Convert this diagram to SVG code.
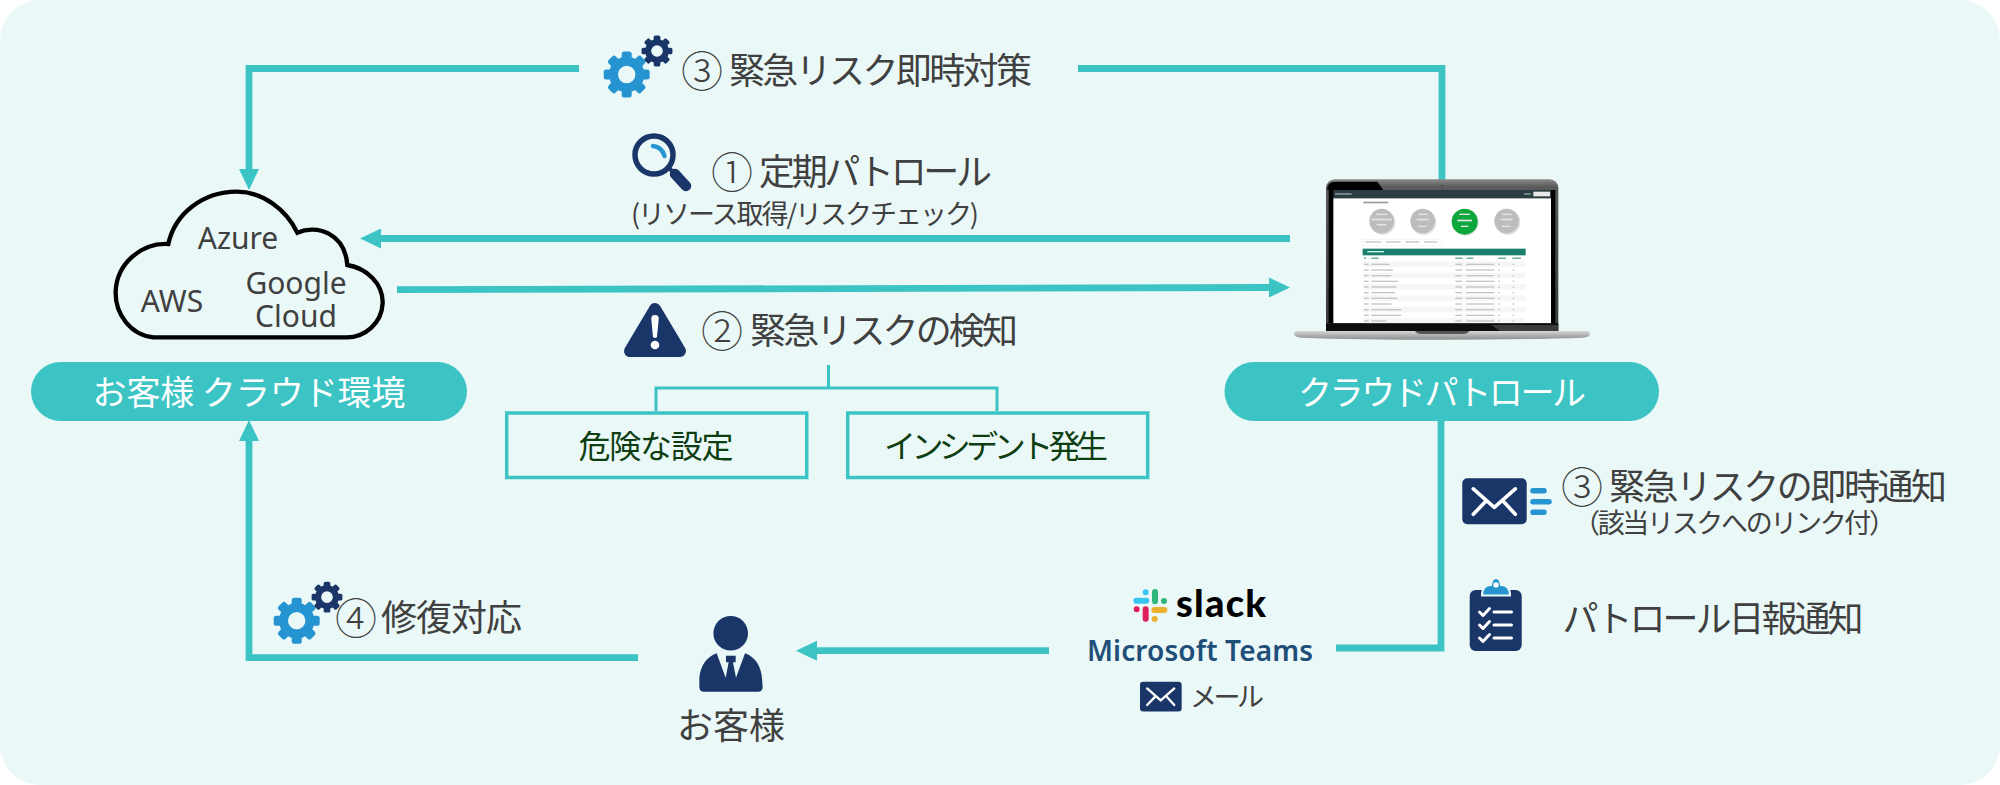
<svg xmlns="http://www.w3.org/2000/svg" width="2000" height="785" viewBox="0 0 2000 785">
<style>
text{font-family:"Noto Sans CJK JP","Noto Sans",sans-serif;fill:#404040;font-weight:400}
.l{font-size:36px}.s{font-size:27px}.n{font-size:42px;font-weight:300}
.lat{font-family:"Noto Sans","Liberation Sans",sans-serif;font-size:30px;text-anchor:middle;font-weight:400}
.pill{fill:#3CC4C4}.pt{fill:#fff;font-size:34px;text-anchor:middle;font-weight:400}
.box{fill:none;stroke:#3CC4C4;stroke-width:3.5}
.bt{fill:#0F3D12;font-size:32px;text-anchor:middle;font-weight:400}
.c{fill:none;stroke:#3CC4C4;stroke-width:6.8}
.t{fill:none;stroke:#3CC4C4;stroke-width:3}
.navy{fill:#1A3668}.blue{fill:#2594D0}
.wl{fill:none;stroke:#fff;stroke-linecap:round;stroke-linejoin:round}
.r{fill:#BDBDBD}.g{fill:#C4C4C4}.tl{fill:#2A8A78}
</style>
<defs>
<marker id="ah" markerUnits="userSpaceOnUse" markerWidth="21" markerHeight="20" refX="0" refY="10" orient="auto"><path d="M0 0L21 10L0 20Z" fill="#3CC4C4"/></marker>
<g id="gear"><circle r="13.2" fill="none" stroke="currentColor" stroke-width="9"/>
<g fill="currentColor"><rect x="-5" y="-23" width="10" height="8" rx="2.5"/><rect x="-5" y="-23" width="10" height="8" rx="2.5" transform="rotate(45)"/><rect x="-5" y="-23" width="10" height="8" rx="2.5" transform="rotate(90)"/><rect x="-5" y="-23" width="10" height="8" rx="2.5" transform="rotate(135)"/><rect x="-5" y="-23" width="10" height="8" rx="2.5" transform="rotate(180)"/><rect x="-5" y="-23" width="10" height="8" rx="2.5" transform="rotate(225)"/><rect x="-5" y="-23" width="10" height="8" rx="2.5" transform="rotate(270)"/><rect x="-5" y="-23" width="10" height="8" rx="2.5" transform="rotate(315)"/></g></g>
<g id="gears"><use href="#gear" color="#2594D0"/><use href="#gear" color="#1A3668" transform="translate(30.3 -23.5) scale(.67)"/></g>
<g id="mail"><rect width="64.4" height="46" rx="5" class="navy"/><path class="wl" stroke-width="3.6" d="M11 10.5L32 29L53 10.5M11 36L23.5 23M53 36L41 23"/></g>
<filter id="soft" x="-2%" y="-2%" width="104%" height="104%"><feGaussianBlur stdDeviation="0.6"/></filter>
<linearGradient id="lid" x1="0" y1="0" x2="0" y2="1"><stop offset="0" stop-color="#8A8A8A"/><stop offset=".05" stop-color="#5A5A5A"/><stop offset="1" stop-color="#3A3A3A"/></linearGradient>
<linearGradient id="base" x1="0" y1="0" x2="0" y2="1"><stop offset="0" stop-color="#D6D6D6"/><stop offset=".5" stop-color="#B0B0B0"/><stop offset="1" stop-color="#8F8F8F"/></linearGradient>
</defs>
<rect id="background" width="2000" height="785" rx="40" fill="#EAF9F8"/>

<g id="connectors">
<path class="c" d="M579 68.500H249V169" marker-end="url(#ah)"/>
<path class="c" d="M1078 68.500H1442V180"/>
<path class="c" d="M1290 238.500H381" marker-end="url(#ah)"/>
<path class="c" d="M397 289.700L1269 287.500" marker-end="url(#ah)"/>
<path class="c" d="M1441 421V648H1336"/>
<path class="c" d="M1049 650.700H817" marker-end="url(#ah)"/>
<path class="c" d="M638 657.700H249V441" marker-end="url(#ah)"/>
<path class="t" d="M828.500 365V388M656 411V388H997V411"/>
</g>

<g id="cloud-node">
<path transform="translate(100 180) scale(.3333)" fill="#EAF9F8" stroke="#000" stroke-width="13" stroke-linejoin="miter" d="M160 472C90 465 45 400 47 335C50 250 125 188 205 192C225 100 310 35 410 35C490 35 560 90 592 158C650 132 735 160 742 255C800 265 850 310 848 370C845 430 795 472 740 472Z"/>
<text class="lat" x="238" y="249">Azure</text>
<text class="lat" x="172" y="312">AWS</text>
<text class="lat"><tspan x="296" y="294">Google</tspan><tspan x="296" y="327">Cloud</tspan></text>
</g>
<g id="customer-cloud-label"><rect class="pill" x="31" y="362" width="436" height="59" rx="29.5"/><text class="pt" x="249" y="405" textLength="313">お客様 クラウド環境</text></g>
<g id="patrol-label"><rect class="pill" x="1224.5" y="362" width="434.5" height="59" rx="29.5"/><text class="pt" x="1442" y="405" textLength="288">クラウドパトロール</text></g>

<g id="laptop" transform="translate(1290 170) scale(.33333)">
<g filter="url(#soft)">
<rect x="108" y="28" width="697" height="460" rx="26" fill="url(#lid)"/>
<path d="M112 58Q112 35 135 35H262L280 60H112Z" fill="#000"/>
<rect x="116" y="60" width="680" height="400" fill="#000"/>
<rect x="130" y="60" width="653" height="25" fill="#2A3D40"/>
<rect x="730" y="65" width="50" height="14" fill="#E8E8E8"/>
<rect x="135" y="70" width="50" height="4" fill="#9AA"/><rect x="702" y="70" width="20" height="4" fill="#9AA"/>
<rect x="130" y="85" width="653" height="375" fill="#fff"/>
<rect x="220" y="95" width="75" height="5" fill="#999"/>
<circle cx="278" cy="157" r="38" fill="#E2E2E2"/><circle cx="275" cy="153" r="37" class="r"/>
<circle cx="401" cy="157" r="38" fill="#E2E2E2"/><circle cx="398" cy="153" r="37" class="r"/>
<circle cx="526" cy="157" r="40" fill="#DDD"/><circle cx="524" cy="155" r="39" fill="#10A83A"/>
<circle cx="653" cy="157" r="38" fill="#E2E2E2"/><circle cx="650" cy="153" r="37" class="r"/>
<g fill="#E4E4E4"><rect x="258" y="131" width="34" height="4"/><rect x="245" y="146" width="60" height="5"/><rect x="260" y="162" width="30" height="4"/>
<rect x="385" y="131" width="28" height="4"/><rect x="380" y="146" width="36" height="5"/><rect x="385" y="167" width="24" height="4"/>
<rect x="508" y="131" width="32" height="4"/><rect x="502" y="149" width="44" height="5"/><rect x="513" y="167" width="22" height="4"/>
<rect x="636" y="131" width="30" height="4"/><rect x="632" y="146" width="36" height="5"/><rect x="636" y="167" width="26" height="4"/></g>
<rect x="218" y="208" width="238" height="18" fill="#fff" stroke="#E5E5E5"/>
<g class="g"><rect x="226" y="214" width="48" height="4"/><rect x="288" y="214" width="44" height="4"/><rect x="346" y="214" width="42" height="4"/><rect x="402" y="214" width="40" height="4"/></g>
<rect x="218" y="236" width="489" height="20" fill="#1F7F6C"/>
<rect x="232" y="243" width="50" height="4" fill="#CFE"/>
<g class="tl"><rect x="222" y="263" width="6" height="3"/><rect x="244" y="263" width="22" height="3"/><rect x="496" y="263" width="22" height="3"/><rect x="530" y="263" width="20" height="3"/><rect x="624" y="263" width="24" height="3"/><rect x="667" y="263" width="26" height="3"/></g>
<g fill="#F6F6F6"><rect x="218" y="274" width="489" height="17"/><rect x="218" y="308" width="489" height="17"/><rect x="218" y="342" width="489" height="17"/><rect x="218" y="376" width="489" height="17"/><rect x="218" y="410" width="489" height="17"/><rect x="218" y="444" width="489" height="16"/></g>
<g class="g" id="rows">
<rect x="222" y="281" width="14" height="4"/><rect x="244" y="281" width="55" height="4"/><rect x="496" y="281" width="20" height="4"/><rect x="528" y="281" width="85" height="4"/><rect x="625" y="281" width="5" height="4"/><rect x="668" y="281" width="5" height="4"/>
<rect x="222" y="298" width="14" height="4"/><rect x="244" y="298" width="65" height="4"/><rect x="496" y="298" width="20" height="4"/><rect x="528" y="298" width="85" height="4"/><rect x="625" y="298" width="5" height="4"/><rect x="668" y="298" width="5" height="4"/>
<rect x="222" y="315" width="14" height="4"/><rect x="244" y="315" width="60" height="4"/><rect x="496" y="315" width="20" height="4"/><rect x="528" y="315" width="85" height="4"/><rect x="625" y="315" width="5" height="4"/><rect x="668" y="315" width="5" height="4"/>
<rect x="222" y="332" width="14" height="4"/><rect x="244" y="332" width="80" height="4"/><rect x="496" y="332" width="20" height="4"/><rect x="528" y="332" width="85" height="4"/><rect x="625" y="332" width="5" height="4"/><rect x="668" y="332" width="5" height="4"/>
<rect x="222" y="349" width="14" height="4"/><rect x="244" y="349" width="75" height="4"/><rect x="496" y="349" width="20" height="4"/><rect x="528" y="349" width="85" height="4"/><rect x="625" y="349" width="5" height="4"/><rect x="668" y="349" width="5" height="4"/>
<rect x="222" y="366" width="14" height="4"/><rect x="244" y="366" width="72" height="4"/><rect x="496" y="366" width="20" height="4"/><rect x="528" y="366" width="85" height="4"/><rect x="625" y="366" width="5" height="4"/><rect x="668" y="366" width="5" height="4"/>
<rect x="222" y="383" width="14" height="4"/><rect x="244" y="383" width="78" height="4"/><rect x="496" y="383" width="20" height="4"/><rect x="528" y="383" width="85" height="4"/><rect x="625" y="383" width="5" height="4"/><rect x="668" y="383" width="5" height="4"/>
<rect x="222" y="400" width="14" height="4"/><rect x="244" y="400" width="60" height="4"/><rect x="496" y="400" width="20" height="4"/><rect x="528" y="400" width="85" height="4"/><rect x="625" y="400" width="5" height="4"/><rect x="668" y="400" width="5" height="4"/>
<rect x="222" y="417" width="14" height="4"/><rect x="244" y="417" width="90" height="4"/><rect x="496" y="417" width="20" height="4"/><rect x="528" y="417" width="85" height="4"/><rect x="625" y="417" width="5" height="4"/><rect x="668" y="417" width="5" height="4"/>
<rect x="222" y="434" width="14" height="4"/><rect x="244" y="434" width="90" height="4"/><rect x="496" y="434" width="20" height="4"/><rect x="528" y="434" width="85" height="4"/><rect x="625" y="434" width="5" height="4"/><rect x="668" y="434" width="5" height="4"/>
<rect x="222" y="451" width="14" height="4"/><rect x="244" y="451" width="45" height="4"/><rect x="496" y="451" width="20" height="4"/><rect x="528" y="451" width="85" height="4"/><rect x="625" y="451" width="5" height="4"/><rect x="668" y="451" width="5" height="4"/>
</g>
<path d="M108 460H805V484H108Z" fill="#111"/>
<path d="M605 465H805V484H630Z" fill="#3A3A3A"/>
<path d="M12 492Q12 483 22 483H890Q900 483 900 492Q900 500 880 503Q700 509 456 509Q200 509 32 503Q12 500 12 492Z" fill="url(#base)"/>
<path d="M375 483H538Q532 492 520 492H393Q381 492 375 483Z" fill="#555"/>
<circle cx="456" cy="47" r="2" fill="#222"/>
</g></g>

<g id="patrol-step3-label"><use href="#gears" transform="translate(626.700 74.500)"/><text class="l" y="84"><tspan class="n" x="681" dy="3">③</tspan><tspan x="729" dy="-3" textLength="303">緊急リスク即時対策</tspan></text></g>

<g id="patrol-step1-label">
<circle cx="654" cy="155" r="19" fill="none" stroke="#1A3668" stroke-width="5.5"/>
<path d="M653 146Q662 147 664.5 156" fill="none" stroke="#2594D0" stroke-width="4.5" stroke-linecap="round"/>
<path d="M669 168L675 174" stroke="#1A3668" stroke-width="4" fill="none"/>
<path d="M675 174L686 186" stroke="#1A3668" stroke-width="10.5" stroke-linecap="round" fill="none"/>
<text class="l" y="185"><tspan class="n" x="711" dy="3">①</tspan><tspan x="759" dy="-3" textLength="233">定期パトロール</tspan></text>
<text class="s" x="631" y="224" textLength="348">(リソース取得/リスクチェック)</text>
</g>

<g id="patrol-step2-label">
<path d="M655 309L630 351H680Z" class="navy" stroke="#1A3668" stroke-width="12" stroke-linejoin="round"/>
<path d="M651.3 319Q651 315 655 315Q659 315 658.7 319L657 337Q655 339 653 337Z" fill="#fff"/><circle cx="655" cy="345" r="4.3" fill="#fff"/>
<text class="l" y="344"><tspan class="n" x="701" dy="3">②</tspan><tspan x="750" dy="-3" textLength="268">緊急リスクの検知</tspan></text>
</g>

<g id="box-danger"><rect class="box" x="506.700" y="413" width="300" height="64.500"/><text class="bt" x="656" y="458" textLength="155">危険な設定</text></g>
<g id="box-incident"><rect class="box" x="847.700" y="413" width="300" height="64.500"/><text class="bt" x="996" y="458" textLength="224">インシデント発生</text></g>

<g id="remediation-label"><use href="#gears" transform="translate(296.700 620.700)"/><text class="l" y="631"><tspan class="n" x="335" dy="3">④</tspan><tspan x="381" dy="-3" textLength="141">修復対応</tspan></text></g>

<g id="customer">
<circle cx="730.700" cy="633.300" r="17.300" class="navy"/>
<path class="navy" transform="translate(680 605) scale(.33333)" d="M110 145C80 155 60 185 58 220L58 245Q58 260 72 260H234Q248 260 248 245L246 220C244 185 225 155 195 145L168 218L159 172H167V152H138V172H146L137 218Z"/>
<text class="l" x="731" y="739" text-anchor="middle">お客様</text>
</g>

<g id="channels">
<g fill="none" stroke-linecap="round" transform="translate(1125 580) scale(.33333)">
<g stroke-width="18"><path stroke="#36C5F0" d="M34 62H64M62 37V37"/><path stroke="#2EB67D" d="M90 36V64M117 63V63"/><path stroke="#ECB22E" d="M88 90H118M89 117V117"/><path stroke="#E01E5A" d="M62 88V116M35 88V88"/></g>
</g>
<text x="1176" y="617" style="font-family:Lato,'Noto Sans',sans-serif;fill:#000;font-size:38px;font-weight:900" textLength="90">slack</text>
<text x="1087" y="661" style="font-family:'Noto Sans',sans-serif;fill:#1F4E79;font-size:28px;font-weight:600" textLength="226">Microsoft Teams</text>
<use href="#mail" transform="translate(1140 681.700) scale(.647)"/>
<text class="s" x="1190" y="707" textLength="74">メール</text>
</g>

<g id="notify-label">
<use href="#mail" transform="translate(1462.300 478.300)"/>
<path d="M1533 490.700H1544M1533 501.700H1549M1533 512.300H1544" fill="none" stroke="#2594D0" stroke-width="5.500" stroke-linecap="round"/>
<text class="l" y="500"><tspan class="n" x="1561" dy="3">③</tspan><tspan x="1609" dy="-3" textLength="338">緊急リスクの即時通知</tspan><tspan class="s" x="1573" y="533" textLength="323">（該当リスクへのリンク付）</tspan></text>
</g>

<g id="daily-report-label">
<rect x="1469.700" y="590" width="52" height="61" rx="6" class="navy"/>
<path class="blue" stroke="#EAF9F8" stroke-width="2" d="M1482 595.500Q1482 585 1491 585Q1492 578 1496 578Q1500 578 1501 585Q1510 585 1510 595.500Z"/>
<circle cx="1496" cy="585" r="2.700" fill="#fff"/>
<g class="wl" stroke-width="3"><path d="M1479.500 612L1483 615.500L1489.500 608.500M1479.500 625L1483 628.500L1489.500 621.500M1479.500 638L1483 641.500L1489.500 634.500"/><path d="M1494 612H1511.500M1494 625H1511.500M1494 638H1511.500"/></g>
<text class="l" x="1562.500" y="632" textLength="301">パトロール日報通知</text>
</g>
</svg>
